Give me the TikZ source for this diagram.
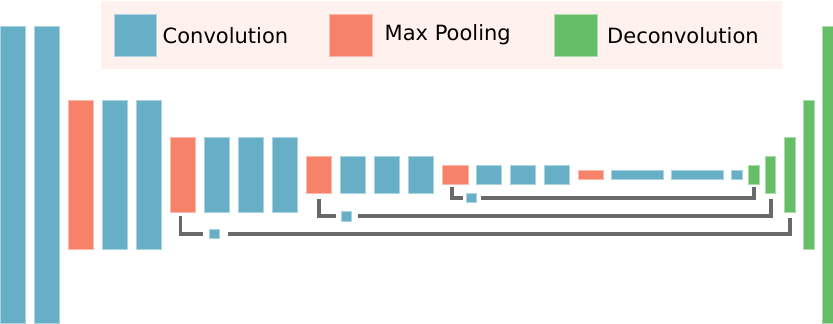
\documentclass[tikz,border=0pt]{standalone}
\usepackage{fontspec}
\setmainfont{DejaVu Sans}
\usetikzlibrary{calc}
\definecolor{cblue}{HTML}{67AFC7}
\definecolor{cpool}{HTML}{F6826A}
\definecolor{cgreen}{HTML}{66BF66}
\definecolor{legbg}{HTML}{FFF2EE}
\definecolor{skipgray}{HTML}{696969}
\newcommand{\blk}[6]{\node[#2, minimum width={#5pt-#3pt}, minimum height={#6pt-#4pt}] (#1) at ({(#3+#5)/2},{(#4+#6)/2}) {};}
\begin{document}
\begin{tikzpicture}[x=1pt,y=-1pt,
  blk/.style={rectangle, inner sep=0pt, outer sep=0pt, line width=0.7pt},
  conv/.style={blk, fill=cblue, draw=cblue!55!white},
  pool/.style={blk, fill=cpool, draw=cpool!55!white},
  deconv/.style={blk, fill=cgreen, draw=cgreen!55!white},
  legendbg/.style={blk, fill=legbg},
  skip/.style={draw=skipgray, line width=3.9pt, line cap=butt, line join=miter},
  legtext/.style={inner sep=0pt, anchor=base west, font=\fontsize{21}{25}\selectfont, text=black}
]
\useasboundingbox (0,0) rectangle (833,324);
% legend
\blk{legend}{legendbg}{101}{1}{782.3}{69}
\blk{lc}{conv}{114}{14}{156.7}{56.7}
\blk{lp}{pool}{329.7}{14}{372.3}{56.7}
\blk{ld}{deconv}{554.7}{14}{597.3}{56.7}
\node[legtext] (tc) at (162.5,43.3) {Convolution};
\node[legtext] (tp) at (384.5,40) {Max Pooling};
\node[legtext] (td) at (607,43.3) {Deconvolution};
% encoder
\blk{c1}{conv}{0}{26}{25.7}{323.4}
\blk{c2}{conv}{34}{26}{59.7}{323.4}
\blk{p1}{pool}{68}{100.3}{93.7}{249}
\blk{c3}{conv}{102}{100.3}{127.7}{249}
\blk{c4}{conv}{136}{100.3}{161.7}{249}
\blk{p2}{pool}{170}{137.3}{195.7}{212}
\blk{c5}{conv}{204}{137.3}{229.7}{212}
\blk{c6}{conv}{238}{137.3}{263.7}{212}
\blk{c7}{conv}{272}{137.3}{297.7}{212}
\blk{p3}{pool}{306}{156}{331.7}{193.3}
\blk{c8}{conv}{340}{156}{365.7}{193.3}
\blk{c9}{conv}{374}{156}{399.7}{193.3}
\blk{c10}{conv}{408}{156}{433.7}{193.3}
\blk{p4}{pool}{442}{165.7}{468}{184}
\blk{c11}{conv}{476}{165.7}{501.7}{184}
\blk{c12}{conv}{510}{165.7}{535.7}{184}
\blk{c13}{conv}{544}{165.7}{569.7}{184}
\blk{p5}{pool}{578}{170.3}{603.5}{179.3}
\blk{c14}{conv}{611.5}{170.3}{663.3}{179.3}
\blk{c15}{conv}{671.5}{170.3}{723.3}{179.3}
\blk{c16}{conv}{731.7}{170.3}{742.3}{179.3}
% decoder
\blk{d1}{deconv}{748.3}{165.7}{759}{184}
\blk{d2}{deconv}{765}{156}{775.7}{193.3}
\blk{d3}{deconv}{784.7}{137.3}{795.3}{212}
\blk{d4}{deconv}{803.3}{100.3}{814}{249}
\blk{d5}{deconv}{822.7}{26}{833.3}{323.4}
% skip squares
\blk{sA}{conv}{466.7}{193}{476.7}{202.3}
\blk{sB}{conv}{341.3}{211.7}{351.7}{221}
\blk{sC}{conv}{209.3}{229.3}{219.7}{238.3}
% skip connections
\draw[skip] ($(p4.south west)+(9.7,3.3)$) |- ($(sA.west)+(-3.4,0)$);
\draw[skip] ($(sA.east)+(4,0)$) -| ($(d1.south)+(0.35,2.7)$);
\draw[skip] ($(p3.south west)+(12.7,5.7)$) |- ($(sB.west)+(-5.6,0)$);
\draw[skip] ($(sB.east)+(6.6,0)$) -| ($(d2.south)+(0.25,5.4)$);
\draw[skip] ($(p2.south west)+(10.5,4)$) |- ($(sC.west)+(-6.6,0)$);
\draw[skip] ($(sC.east)+(7.8,0)$) -| ($(d3.south)+(0.3,6.3)$);
\end{tikzpicture}
\end{document}
